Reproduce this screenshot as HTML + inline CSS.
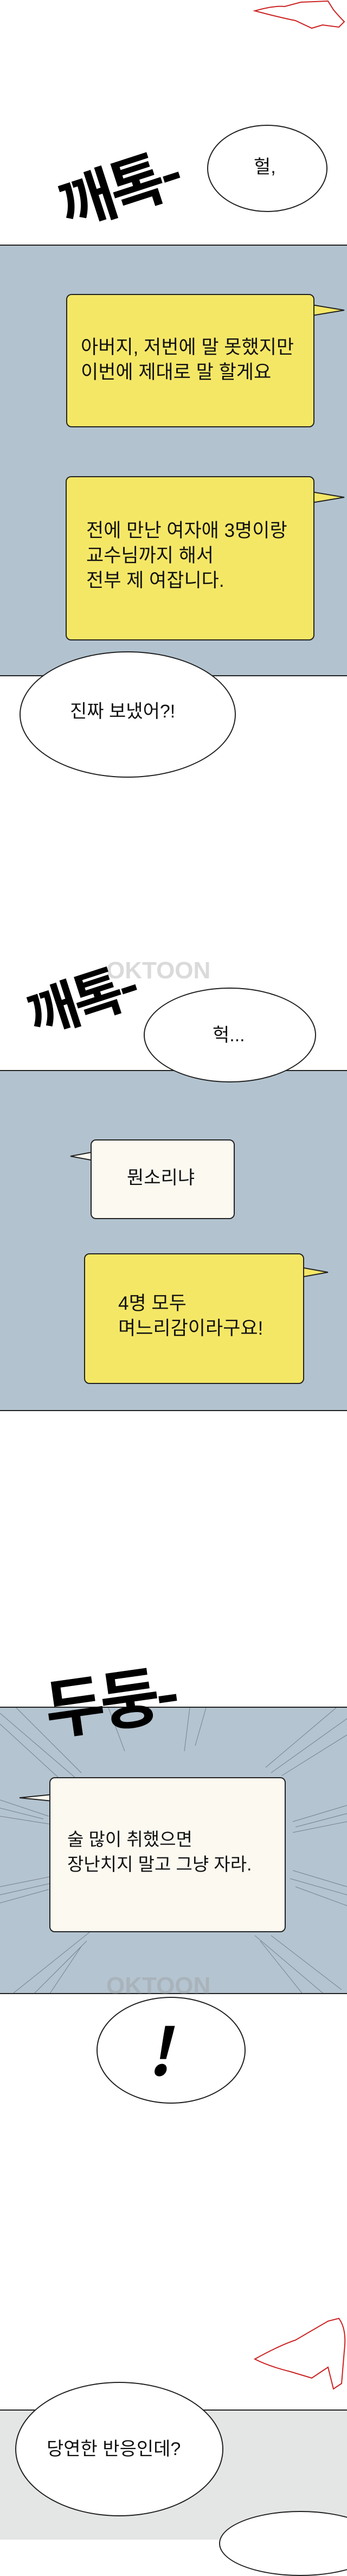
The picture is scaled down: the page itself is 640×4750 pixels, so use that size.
<!DOCTYPE html>
<html><head><meta charset="utf-8">
<style>
*{margin:0;padding:0;box-sizing:border-box}
body{width:640px;height:4656px;position:relative;background:#fff;overflow:hidden;font-family:"Liberation Sans","Noto Sans CJK KR",sans-serif;color:#111}
.a{position:absolute}
.panel{position:absolute;left:0;width:640px;border-top:2px solid #222;border-bottom:2px solid #222}
.box{position:absolute;border:2.5px solid #222;border-radius:10px}
.t{position:absolute;font-size:34px;line-height:46px;white-space:nowrap;color:#111}
.ell{position:absolute;border:2px solid #222;border-radius:50%;background:#fff}
.sfx{position:absolute;font-weight:bold;color:#000;white-space:nowrap;font-family:"Noto Sans CJK KR",sans-serif}
.wm{position:absolute;color:rgba(150,150,150,0.35);font-weight:bold;white-space:nowrap}
</style></head><body>

<svg class="a" style="left:465px;top:0" width="175" height="56"><path d="M5 20 Q40 10 60 12 L90 4 L140 2 L150 18 Q160 30 170 40 L160 50 L130 46 L110 52 L80 38 Q50 32 5 20Z" fill="none" stroke="#c22" stroke-width="2"/></svg>

<div class="panel" style="top:451px;height:796px;background:#b2c3cf"></div>
<div class="sfx" style="left:86px;top:300px;font-size:110px;transform:rotate(-18deg);transform-origin:left top;letter-spacing:-6px">깨톡-</div>
<div class="ell" style="left:382px;top:230px;width:222px;height:161px"></div>
<div class="t" style="left:468px;top:285px">헐,</div>

<svg class="a" style="left:575px;top:560px" width="65" height="30"><path d="M0 2 L60 12 L0 22" fill="#f5e766" stroke="#222" stroke-width="2"/></svg>
<div class="box" style="left:122px;top:542px;width:458px;height:246px;background:#f5e766"></div>
<div class="t" style="left:149px;top:618px;font-size:35px">아버지, 저번에 말 못했지만<br>이번에 제대로 말 할게요</div>

<svg class="a" style="left:575px;top:905px" width="65" height="30"><path d="M0 2 L60 12 L0 22" fill="#f5e766" stroke="#222" stroke-width="2"/></svg>
<div class="box" style="left:121px;top:878px;width:459px;height:303px;background:#f5e766"></div>
<div class="t" style="left:159px;top:956px;font-size:35px">전에 만난 여자애 3명이랑<br>교수님까지 해서<br>전부 제 여잡니다.</div>

<div class="ell" style="left:36px;top:1201px;width:399px;height:233px"></div>
<div class="t" style="left:129px;top:1289px">진짜 보냈어?!</div>

<div class="panel" style="top:1973px;height:629px;background:#b2c3cf"></div>
<div class="wm" style="left:196px;top:1765px;font-size:44px">OKTOON</div>
<div class="sfx" style="left:30px;top:1800px;font-size:100px;transform:rotate(-18deg);transform-origin:left top;letter-spacing:-6px">깨톡-</div>
<div class="ell" style="left:265px;top:1821px;width:318px;height:175px"></div>
<div class="t" style="left:392px;top:1886px">헉...</div>

<svg class="a" style="left:128px;top:2120px" width="45" height="30"><path d="M45 4 L2 12 L45 20" fill="#fbf9f0" stroke="#222" stroke-width="2"/></svg>
<div class="box" style="left:167px;top:2101px;width:266px;height:147px;background:#fbf9f0"></div>
<div class="t" style="left:234px;top:2149px">뭔소리냐</div>

<svg class="a" style="left:555px;top:2335px" width="55" height="30"><path d="M0 2 L50 11 L0 20" fill="#f5e766" stroke="#222" stroke-width="2"/></svg>
<div class="box" style="left:155px;top:2311px;width:406px;height:241px;background:#f5e766"></div>
<div class="t" style="left:218px;top:2381px;font-size:35px">4명 모두<br>며느리감이라구요!</div>

<div class="panel" style="top:3147px;height:530px;background:#b4c4d0;overflow:hidden">
<svg width="640" height="530" style="position:absolute;left:0;top:0">
<g stroke="#5a6670" stroke-width="1" opacity="0.7">
<line x1="0" y1="10" x2="140" y2="130"/><line x1="0" y1="30" x2="120" y2="140"/><line x1="30" y1="0" x2="150" y2="120"/>
<line x1="0" y1="170" x2="90" y2="200"/><line x1="0" y1="185" x2="80" y2="205"/><line x1="0" y1="200" x2="95" y2="215"/>
<line x1="0" y1="330" x2="100" y2="310"/><line x1="0" y1="345" x2="110" y2="320"/><line x1="0" y1="360" x2="90" y2="335"/>
<line x1="20" y1="530" x2="170" y2="410"/><line x1="60" y1="530" x2="160" y2="430"/><line x1="90" y1="530" x2="150" y2="440"/>
<line x1="640" y1="20" x2="500" y2="120"/><line x1="620" y1="0" x2="490" y2="110"/><line x1="640" y1="50" x2="520" y2="125"/>
<line x1="640" y1="180" x2="540" y2="210"/><line x1="640" y1="195" x2="545" y2="220"/><line x1="640" y1="210" x2="540" y2="230"/>
<line x1="640" y1="330" x2="540" y2="300"/><line x1="640" y1="345" x2="535" y2="315"/><line x1="640" y1="365" x2="545" y2="330"/>
<line x1="600" y1="530" x2="470" y2="420"/><line x1="560" y1="530" x2="480" y2="430"/><line x1="630" y1="520" x2="500" y2="420"/>
<line x1="200" y1="0" x2="230" y2="80"/><line x1="350" y1="0" x2="340" y2="80"/><line x1="380" y1="0" x2="360" y2="70"/>
</g></svg></div>
<div class="sfx" style="left:70px;top:3060px;font-size:120px;transform:rotate(-8deg);transform-origin:left top;letter-spacing:-8px">두둥-</div>
<svg class="a" style="left:34px;top:3305px" width="62" height="25"><path d="M62 4 L2 10 L62 16" fill="#fbf9f0" stroke="#222" stroke-width="2"/></svg>
<div class="box" style="left:91px;top:3277px;width:436px;height:286px;background:#fbf9f0"></div>
<div class="t" style="left:124px;top:3369px;font-size:33px">술 많이 취했으면<br>장난치지 말고 그냥 자라.</div>

<div class="ell" style="left:178px;top:3682px;width:275px;height:197px"></div>
<div class="wm" style="left:196px;top:3637px;font-size:44px">OKTOON</div>
<div class="sfx" style="left:283px;top:3700px;font-size:120px;line-height:150px;transform:skewX(-12deg)">!</div>

<svg class="a" style="left:465px;top:4255px" width="175" height="156"><path d="M5 95 Q50 70 80 60 L140 25 L160 20 Q175 40 170 80 L165 140 L150 150 L140 110 L110 130 L70 118 Q30 108 5 95Z" fill="none" stroke="#c22" stroke-width="2"/></svg>

<div class="panel" style="top:4443px;height:240px;background:#e4e6e5;border-bottom:none"></div>
<div class="ell" style="left:28px;top:4392px;width:384px;height:248px"></div>
<div class="t" style="left:86px;top:4493px">당연한 반응인데?</div>
<div class="ell" style="left:404px;top:4630px;width:300px;height:120px"></div>
</body></html>
